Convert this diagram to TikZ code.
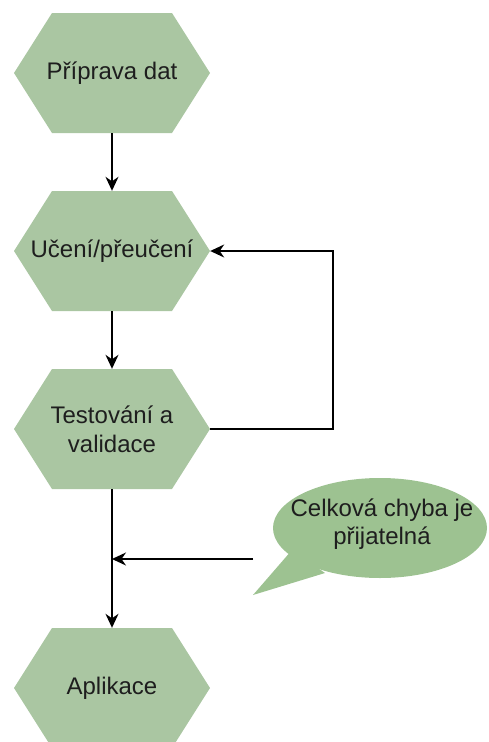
\documentclass[tikz,border=0pt]{standalone}
\usepackage{fontspec}
\setmainfont{Liberation Sans}
\usetikzlibrary{arrows.meta}
\definecolor{hexcol}{RGB}{170,198,162}
\definecolor{callcol}{RGB}{157,194,145}
\definecolor{txt}{RGB}{30,30,30}
\begin{document}
\begin{tikzpicture}[x=1pt,y=-1pt,
  hexbox/.style={rectangle, minimum width=196pt, minimum height=120pt, inner sep=0pt,
    align=center, text=txt, font=\fontsize{24}{29}\selectfont,
    path picture={\fill[hexcol] (path picture bounding box.west)
      -- ([xshift=38pt]path picture bounding box.north west)
      -- ([xshift=-38pt]path picture bounding box.north east)
      -- (path picture bounding box.east)
      -- ([xshift=-38pt]path picture bounding box.south east)
      -- ([xshift=38pt]path picture bounding box.south west) -- cycle;}},
  conn/.style={line width=1.4pt, draw=black, -{Stealth[length=14pt,width=13pt,inset=4.5pt]}},
  bubbletext/.style={inner sep=0pt, align=center, text=txt, font=\fontsize{24}{28}\selectfont}
]
\useasboundingbox (0,0) rectangle (488,742);
\node[hexbox] (h1) at (112,73) {Příprava dat};
\node[hexbox] (h2) at (112,251) {Učení/přeučení};
\node[hexbox] (h3) at (112,429) {Testování a\\validace};
\node[hexbox] (h4) at (112,688) {Aplikace};
% callout
\fill[callcol] (292,550) -- (253,595) -- (325,573) -- cycle;
\fill[callcol] (380,528) ellipse [x radius=107, y radius=50];
\node[bubbletext] (c) at (382,524) {Celková chyba je\\přijatelná};
\coordinate (cs) at (253,559);
\coordinate (cj) at (112,559);
\coordinate (lp) at (333,429);
% connectors
\draw[conn] (h1.south) -- (h2.north);
\draw[conn] (h2.south) -- (h3.north);
\draw[conn] (h3.south) -- (h4.north);
\draw[conn] (h3.east) -- (lp) |- (h2.east);
\draw[conn] (cs) -- (cj);
\end{tikzpicture}
\end{document}
